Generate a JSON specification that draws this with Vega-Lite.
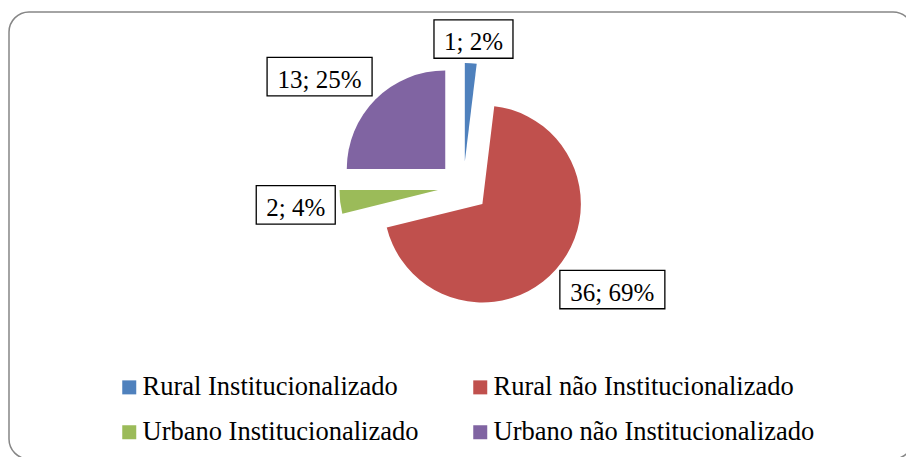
{
  "$schema": "https://vega.github.io/schema/vega-lite/v6.json",
  "width": 904,
  "height": 447,
  "autosize": {"type": "none"},
  "padding": {"left": 9, "top": 12, "right": -7, "bottom": -2},
  "background": "white",
  "config": {
    "view": {"stroke": "#868686", "strokeWidth": 1.5, "cornerRadius": 20},
    "font": "Liberation Serif"
  },
  "data": {
    "values": [
      {"categoria": "Rural Institucionalizado", "n": 1},
      {"categoria": "Rural não Institucionalizado", "n": 36},
      {"categoria": "Urbano Institucionalizado", "n": 2},
      {"categoria": "Urbano não Institucionalizado", "n": 13}
    ]
  },
  "transform": [
    {"window": [{"op": "sum", "field": "n", "as": "fim"}], "frame": [null, 0]},
    {"joinaggregate": [{"op": "sum", "field": "n", "as": "total"}]},
    {"calculate": "datum.fim - datum.n", "as": "inicio"},
    {"calculate": "2*PI*datum.inicio/datum.total", "as": "a0"},
    {"calculate": "2*PI*datum.fim/datum.total", "as": "a1"},
    {"calculate": "(datum.a0 + datum.a1)/2", "as": "meio"},
    {"calculate": "sin(datum.meio)", "as": "ux"},
    {"calculate": "cos(datum.meio)", "as": "uy"},
    {"calculate": "25.5*datum.ux", "as": "cx"},
    {"calculate": "25.5*datum.uy", "as": "cy"},
    {"calculate": "datum.n + '; ' + round(100*datum.n/datum.total) + '%'", "as": "rotulo"},
    {"calculate": "6.5*length(datum.rotulo) + 7", "as": "hw"},
    {"calculate": "max(abs(datum.ux), abs(datum.uy))", "as": "m"},
    {"calculate": "129*datum.ux + datum.hw*datum.ux/datum.m", "as": "lx"},
    {"calculate": "129*datum.uy + 19.2*datum.uy/datum.m", "as": "ly"},
    {"calculate": "datum.lx - datum.hw", "as": "bx0"},
    {"calculate": "datum.lx + datum.hw", "as": "bx1"},
    {"calculate": "datum.ly - 19.2", "as": "by0"},
    {"calculate": "datum.ly + 19.2", "as": "by1"}
  ],
  "layer": [
    {
      "mark": {"type": "arc", "radius": 98.5, "strokeWidth": 0},
      "encoding": {
        "x": {"field": "cx", "type": "quantitative", "scale": {"domain": [-454.3, 449.7], "nice": false, "zero": false}, "axis": null},
        "y": {"field": "cy", "type": "quantitative", "scale": {"domain": [-272, 175], "nice": false, "zero": false}, "axis": null},
        "theta": {"field": "a0", "type": "quantitative", "scale": null, "stack": null},
        "theta2": {"field": "a1"},
        "color": {
          "field": "categoria",
          "type": "nominal",
          "scale": {
            "domain": ["Rural Institucionalizado", "Rural não Institucionalizado", "Urbano Institucionalizado", "Urbano não Institucionalizado"],
            "range": ["#4F81BD", "#C0504D", "#9BBB59", "#8064A2"]
          },
          "legend": {
            "title": null,
            "orient": "none",
            "direction": "horizontal",
            "legendX": 107,
            "legendY": 362,
            "columns": 2,
            "symbolType": "square",
            "symbolSize": 196,
            "symbolStrokeWidth": 0,
            "labelFont": "Liberation Serif",
            "labelFontSize": 26.5,
            "labelColor": "black",
            "labelLimit": 600,
            "labelOffset": 0,
            "columnPadding": 48,
            "rowPadding": 18
          }
        }
      }
    },
    {
      "mark": {"type": "rect", "fill": "white", "stroke": "black", "strokeWidth": 1.3},
      "encoding": {
        "x": {"field": "bx0", "type": "quantitative", "scale": {"domain": [-454.3, 449.7], "nice": false, "zero": false}, "axis": null},
        "x2": {"field": "bx1"},
        "y": {"field": "by0", "type": "quantitative", "scale": {"domain": [-272, 175], "nice": false, "zero": false}, "axis": null},
        "y2": {"field": "by1"}
      }
    },
    {
      "mark": {"type": "text", "font": "Liberation Serif", "fontSize": 25, "color": "black", "align": "center", "baseline": "middle", "dy": 3},
      "encoding": {
        "x": {"field": "lx", "type": "quantitative", "scale": {"domain": [-454.3, 449.7], "nice": false, "zero": false}, "axis": null},
        "y": {"field": "ly", "type": "quantitative", "scale": {"domain": [-272, 175], "nice": false, "zero": false}, "axis": null},
        "text": {"field": "rotulo"}
      }
    }
  ]
}
